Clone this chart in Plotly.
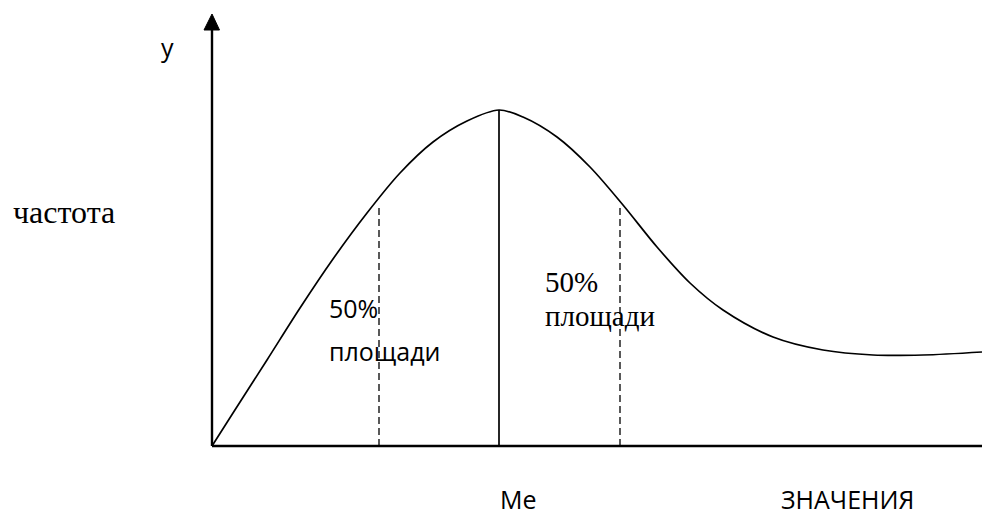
import plotly.graph_objects as go

# Curve values (x: value units, y: frequency units)
curve_x = [0, 21, 55, 88, 121, 155, 188, 221, 255, 287, 311, 345, 378, 411, 445, 478, 511, 561, 611, 661, 711, 770]
curve_y = [0, 33, 86, 138, 187, 233, 273, 304, 325, 336, 329, 309, 279, 241, 199, 163, 136, 109, 96, 91, 91, 94]

median_x = 287
median_y = 336
quartile_x = [167, 408]
quartile_y = 242

x_axis_end = 776
y_axis_top = 432

fig = go.Figure()

fig.add_trace(go.Scatter(
    x=curve_x, y=curve_y, mode="lines",
    line=dict(color="black", width=1.7, shape="spline", smoothing=0.9),
    hoverinfo="skip", showlegend=False,
))

shapes = []
# axes
shapes.append(dict(type="line", x0=0, y0=0, x1=0, y1=y_axis_top - 14,
                   line=dict(color="black", width=2.4)))
shapes.append(dict(type="line", x0=0, y0=0, x1=x_axis_end, y1=0,
                   line=dict(color="black", width=2.4)))
shapes.append(dict(type="line", x0=x_axis_end, y0=-7, x1=x_axis_end, y1=8,
                   line=dict(color="black", width=2.2)))
shapes.append(dict(type="path",
                   path=f"M -8,{y_axis_top-16} L 7.5,{y_axis_top-16} L 0,{y_axis_top} Z",
                   fillcolor="black", line=dict(color="black", width=1)))
# median
shapes.append(dict(type="line", x0=median_x, y0=0, x1=median_x, y1=median_y,
                   line=dict(color="black", width=1.7)))
# dashed
for qx in quartile_x:
    shapes.append(dict(type="line", x0=qx, y0=0, x1=qx, y1=quartile_y,
                       line=dict(color="black", width=1.3, dash="7px,4px")))

sans = "Open Sans"
serif = "Liberation Serif"
ann = [
    dict(text="y", x=-44.5, y=399, xanchor="center", font=dict(family=sans, size=25)),
    dict(text="частота", x=-200, y=234, xanchor="left", font=dict(family=serif, size=32)),
    dict(text="50%", x=116, y=138, xanchor="left", font=dict(family=sans, size=25)),
    dict(text="площади", x=116, y=95, xanchor="left", font=dict(family=sans, size=25)),
    dict(text="50%", x=332, y=164, xanchor="left", font=dict(family=serif, size=29)),
    dict(text="площади", x=332, y=130, xanchor="left", font=dict(family=serif, size=29)),
    dict(text="Me", x=287, y=-53, xanchor="left", font=dict(family=sans, size=25)),
    dict(text="ЗНАЧЕНИЯ", x=568, y=-53, xanchor="left", font=dict(family=sans, size=25)),
]
for a in ann:
    a.update(xref="x", yref="y", yanchor="middle", showarrow=False, borderpad=0)
    a["font"]["color"] = "black"

# page has an 8px body margin, so the data ranges are offset by 8px
fig.update_layout(
    width=990, height=510,
    margin=dict(l=0, r=0, t=0, b=0),
    paper_bgcolor="white", plot_bgcolor="white",
    xaxis=dict(range=[-204, 786], visible=False, fixedrange=True),
    yaxis=dict(range=[-72, 438], visible=False, fixedrange=True),
    shapes=shapes, annotations=ann,
)

fig.write_html("out.html")
